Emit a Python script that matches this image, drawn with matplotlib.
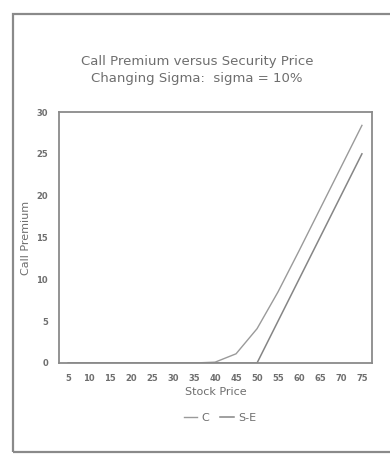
import matplotlib
matplotlib.use("Agg")
import matplotlib.pyplot as plt
from matplotlib.patches import Rectangle

stock_price = [5, 10, 15, 20, 25, 30, 35, 40, 45, 50, 55, 60, 65, 70, 75]
call_premium = [0, 0, 0, 0, 0, 0, 0, 0.1, 1.1, 4.1, 8.5, 13.4, 18.4, 23.4, 28.4]
intrinsic = [0, 0, 0, 0, 0, 0, 0, 0, 0, 0, 5, 10, 15, 20, 25]
series_labels = ["C", "S-E"]
title_text = "Call Premium versus Security Price\nChanging Sigma:  sigma = 10%"
y_ticks = [0, 5, 10, 15, 20, 25, 30]

W, H = 390, 454
fig = plt.figure(figsize=(W / 100, H / 100), dpi=100)
fig.patch.set_facecolor("white")

txt = "#6e6e6e"
ax = fig.add_axes([59 / W, 1 - 363 / H, (372 - 59) / W, (363 - 112) / H])

ax.plot(stock_price, call_premium, color="#9a9a9a", lw=1.0, label=series_labels[0])
ax.plot(stock_price, intrinsic, color="#858585", lw=1.1, label=series_labels[1])

ax.set_xlim(2.8, 77.4)
ax.set_ylim(0, 30)
ax.set_xticks(stock_price)
ax.set_yticks(y_ticks)
ax.tick_params(length=0, labelsize=6, colors=txt, pad=8)
for lab in ax.get_xticklabels() + ax.get_yticklabels():
    lab.set_fontweight("bold")
for s in ax.spines.values():
    s.set_color("#8a8a8a")
    s.set_linewidth(1.3)

ax.set_xlabel("Stock Price", fontsize=8, color=txt, labelpad=3)
ax.set_ylabel("Call Premium", fontsize=8, color=txt, labelpad=4)

fig.text(197 / W, 1 - 70 / H, title_text, ha="center", va="center",
         fontsize=9.5, color=txt, linespacing=1.4)

leg = fig.legend(loc="center", bbox_to_anchor=(220 / W, 1 - 418 / H), ncol=2,
                 frameon=False, fontsize=8, handlelength=1.2, columnspacing=1.0,
                 handletextpad=0.4)
for t in leg.get_texts():
    t.set_color(txt)

fig.add_artist(Rectangle((13 / W, 1 - 452 / H), 2, (452 - 14) / H,
                         transform=fig.transFigure, fill=False,
                         edgecolor="#8a8a8a", lw=1.6))

fig.savefig("out.png", dpi=100, facecolor="white")
